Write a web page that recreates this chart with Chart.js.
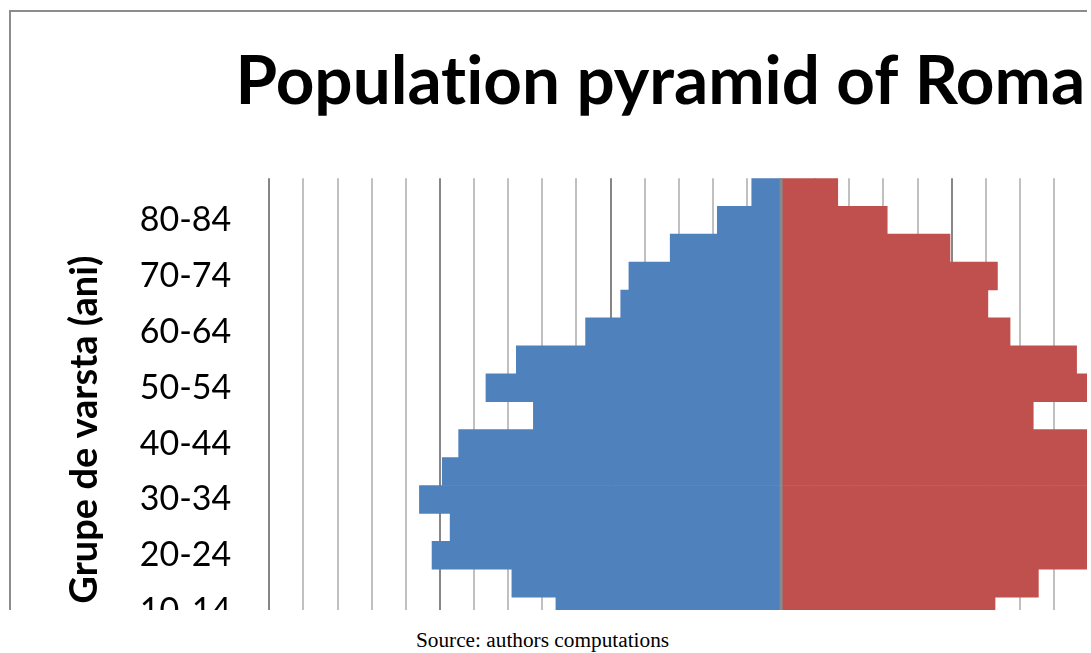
<!DOCTYPE html>
<html>
<head>
<meta charset="utf-8">
<script src="https://cdn.jsdelivr.net/npm/chart.js@4"></script>
<style>
html,body{margin:0;padding:0;background:#fff;overflow:hidden;width:1091px;height:653px;}
#clip{position:absolute;left:0;top:0;width:1087px;height:610px;overflow:hidden;}
#frame{position:absolute;left:9px;top:10px;width:1100px;height:620px;border-left:2px solid #8c8c8c;border-top:2px solid #8c8c8c;pointer-events:none;}
#c{position:absolute;left:0;top:0;}
#src{position:absolute;left:0;top:630px;width:1085px;text-align:center;font:21.3px/21.3px "Liberation Serif","Times New Roman",serif;color:#000;}
</style>
</head>
<body>
<div id="clip"><canvas id="c" width="1410" height="760"></canvas><div id="frame"></div></div>
<div id="src">Source: authors computations</div>
<script>
// Age groups, top to bottom
const ageGroups = ['85+','80-84','75-79','70-74','65-69','60-64','55-59','50-54','45-49','40-44','35-39','30-34','25-29','20-24','15-19','10-14','5-9','0-4'];
// Men (thousands) - drawn to the left
const men   = [86, 187, 325, 446, 470, 573, 776, 865, 726, 945, 993, 1060, 970, 1023, 789, 660, 600, 560];
// Women (thousands) - drawn to the right
const women = [166, 311, 495, 634, 606, 671, 866, 940, 739, 990, 1005, 1040, 960, 990, 754, 627, 570, 530];
const xLimit = 1500;
const xStep = 100;
const majorStep = 500;

const canvasWidth = 1410;
const plotRight = 1292.9;

const textSetup = {
  id: 'textSetup',
  beforeDraw(chart) {
    if ('textRendering' in chart.ctx) chart.ctx.textRendering = 'optimizeSpeed';
  }
};

const zeroLine = {
  id: 'zeroLine',
  afterDatasetsDraw(chart) {
    const {ctx, chartArea, scales} = chart;
    const x = scales.x.getPixelForValue(0);
    ctx.save();
    ctx.strokeStyle = '#868a8e';
    ctx.lineWidth = 3;
    ctx.beginPath();
    ctx.moveTo(x, chartArea.top);
    ctx.lineTo(x, chartArea.bottom);
    ctx.stroke();
    ctx.restore();
  }
};

new Chart(document.getElementById('c'), {
  type: 'bar',
  data: {
    labels: ageGroups,
    datasets: [
      {label: 'Barbati', data: men.map(v => -v), backgroundColor: '#4f81bd', borderWidth: 0},
      {label: 'Femei', data: women, backgroundColor: '#c0504d', borderWidth: 0}
    ]
  },
  options: {
    indexAxis: 'y',
    responsive: false,
    animation: false,
    layout: {padding: 0},
    datasets: {bar: {categoryPercentage: 1, barPercentage: 1}},
    plugins: {
      legend: {display: false},
      tooltip: {enabled: false},
      title: {
        display: true,
        text: 'Population pyramid of Romania',
        color: '#000',
        font: {family: 'Lato', weight: 'bold', size: 67.4, lineHeight: 1.2},
        padding: {top: 41.8, bottom: 55.6}
      }
    },
    scales: {
      x: {
        type: 'linear',
        stacked: true,
        min: -xLimit,
        max: xLimit,
        position: 'bottom',
        ticks: {
          stepSize: xStep,
          autoSkip: false,
          color: '#000',
          font: {family: 'Lato', size: 24},
          callback: v => (Math.abs(v) % majorStep === 0 ? Math.abs(v) : '')
        },
        grid: {
          drawTicks: false,
          lineWidth: 2,
          color: c => (c.tick && Math.abs(c.tick.value) % majorStep === 0 ? '#868686' : '#c0c0c0')
        },
        border: {display: false},
        afterFit: s => { s.height = 79; }
      },
      y: {
        type: 'category',
        stacked: true,
        position: 'left',
        grid: {display: false, drawTicks: false},
        border: {display: false},
        ticks: {
          autoSkip: false,
          padding: 38,
          color: '#000',
          font: {family: 'Lato', size: 34},
          callback: function (v, i) { return i % 2 === 1 ? this.getLabelForValue(v) : ''; }
        },
        title: {
          display: true,
          text: 'Grupe de varsta (ani)',
          color: '#000',
          font: {family: 'Lato', weight: 'bold', size: 38},
          padding: {top: 61.5, bottom: 0}
        },
        afterFit: s => { s.width = 269.3; }
      },
      yRight: {
        type: 'category',
        axis: 'y',
        position: 'right',
        display: true,
        grid: {display: false, drawTicks: false},
        border: {display: false},
        ticks: {display: false},
        afterFit: s => { s.width = canvasWidth - plotRight; }
      }
    }
  },
  plugins: [textSetup, zeroLine]
});
</script>
</body>
</html>
